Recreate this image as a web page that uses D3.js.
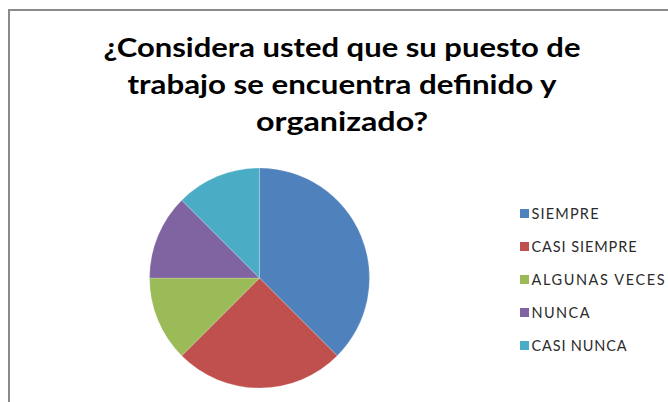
<!DOCTYPE html>
<html>
<head>
<meta charset="utf-8">
<script src="https://cdn.jsdelivr.net/npm/d3@7"></script>
<style>
  body { margin: 0; background: #fff; }
</style>
</head>
<body>
<div class="chart"></div>
<script>
// data
var categories = ["SIEMPRE", "CASI SIEMPRE", "ALGUNAS VECES", "NUNCA", "CASI NUNCA"];
var values = [3, 2, 1, 1, 1];
var colors = ["#4F81BD", "#C0504D", "#9BBB59", "#8064A2", "#4BACC6"];
var titleLines = ["¿Considera usted que su puesto de", "trabajo se encuentra definido y", "organizado?"];

var svgWidth = 668, svgHeight = 402;

var svg = d3.select(".chart")
    .append("svg")
    .attr("width", svgWidth)
    .attr("height", svgHeight);

// chart frame (runs off the right and bottom edges)
svg.append("rect")
    .attr("x", 9)
    .attr("y", 10)
    .attr("width", 700)
    .attr("height", 420)
    .attr("fill", "#fff")
    .attr("stroke", "#8a8a8a")
    .attr("stroke-width", 2);

// title
var titleWidths = [477, 429, 172];
svg.append("g").selectAll("text")
    .data(titleLines)
    .enter()
    .append("text")
    .attr("x", 342)
    .attr("y", (d, i) => 57 + i * 37)
    .attr("text-anchor", "middle")
    .attr("font-family", "Lato, 'Open Sans', sans-serif")
    .attr("font-weight", "bold")
    .attr("font-size", "27px")
    .attr("fill", "#000")
    .attr("textLength", (d, i) => titleWidths[i])
    .attr("lengthAdjust", "spacingAndGlyphs")
    .text(d => d);

// pie
var data = categories.map((c, i) => ({ name: c, value: values[i] }));
var pie = d3.pie().sort(null).value(d => d.value);
var arc = d3.arc().innerRadius(0).outerRadius(110);
var color = d3.scaleOrdinal().domain(categories).range(colors);

var pieGroup = svg.append("g")
    .attr("transform", "translate(259.5, 278)");

pieGroup.selectAll("path")
    .data(pie(data))
    .enter()
    .append("path")
    .attr("d", arc)
    .attr("fill", d => color(d.data.name))
    .attr("stroke", "rgba(255,255,255,0.4)")
    .attr("stroke-width", 0.5);

// legend
var legendWidths = [67, 105, 133, 58, 95];
var legend = svg.append("g")
    .selectAll("g")
    .data(categories)
    .enter()
    .append("g")
    .attr("transform", (d, i) => `translate(520, ${214 + i * 33})`);

legend.append("rect")
    .attr("x", 0)
    .attr("y", -5)
    .attr("width", 9)
    .attr("height", 9)
    .attr("fill", d => color(d));

legend.append("text")
    .attr("x", 11.5)
    .attr("y", 5)
    .attr("font-family", "Lato, 'Open Sans', sans-serif")
    .attr("font-size", "14.5px")
    .attr("fill", "#2b2b2b")
    .attr("textLength", (d, i) => legendWidths[i])
    .attr("lengthAdjust", "spacing")
    .text(d => d);
</script>
</body>
</html>
